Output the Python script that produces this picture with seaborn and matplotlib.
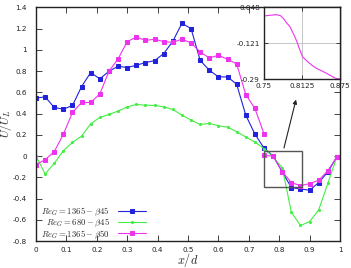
import seaborn as sns
import matplotlib.pyplot as plt
from matplotlib.patches import Rectangle

# data
x_pos = [0.00, 0.03, 0.06, 0.09, 0.12, 0.15, 0.18, 0.21, 0.24, 0.27, 0.30, 0.33,
         0.36, 0.39, 0.42, 0.45, 0.48, 0.51, 0.54, 0.57, 0.60, 0.63, 0.66, 0.69,
         0.72, 0.75, 0.78, 0.81, 0.84, 0.87, 0.90, 0.93, 0.96, 0.99]

blue_1365_b45 = [0.545, 0.557, 0.457, 0.441, 0.476, 0.654, 0.786, 0.726, 0.798, 0.845,
                 0.833, 0.854, 0.880, 0.898, 0.964, 1.080, 1.249, 1.200, 0.900, 0.808,
                 0.745, 0.745, 0.676, 0.385, 0.207, 0.075, 0.000, -0.150, -0.297, -0.310,
                 -0.322, -0.250, -0.150, -0.006]

green_680_b45 = [0.000, -0.169, -0.069, 0.050, 0.128, 0.188, 0.304, 0.363, 0.391, 0.423,
                 0.463, 0.485, 0.479, 0.476, 0.463, 0.438, 0.385, 0.338, 0.297, 0.307,
                 0.285, 0.272, 0.228, 0.180, 0.131, 0.070, -0.010, -0.110, -0.530, -0.654,
                 -0.617, -0.507, -0.257, -0.006]

# magenta series has a jump at x=0.75, drawn as two pieces
mag_x1 = x_pos[:26]
mag_y1 = [-0.080, -0.035, 0.041, 0.205, 0.410, 0.504, 0.504, 0.585, 0.798, 0.914,
          1.077, 1.120, 1.089, 1.099, 1.077, 1.070, 1.100, 1.064, 0.980, 0.923,
          0.948, 0.911, 0.867, 0.579, 0.448, 0.210]
mag_x2 = x_pos[25:]
mag_y2 = [0.005, 0.000, -0.147, -0.250, -0.279, -0.260, -0.228, -0.138, -0.006]

# zoomed curve in the inset
zoom_x = [0.75, 0.7598, 0.7707, 0.7773, 0.7817, 0.7871, 0.7926, 0.7981, 0.8035, 0.809,
          0.8133, 0.8199, 0.8281, 0.8362, 0.8444, 0.8526, 0.8608, 0.8679, 0.875]
zoom_y = [0.006, 0.009, 0.012, 0.007, -0.005, -0.026, -0.044, -0.076, -0.110, -0.154,
          -0.185, -0.204, -0.224, -0.240, -0.251, -0.263, -0.276, -0.287, -0.290]

labels = [r'$Re_G = 1365 - \beta45$', r'$Re_G = 680 - \beta45$', r'$Re_G = 1365 - \beta50$']
colors = ['#2222dd', '#44ee44', '#ee33ee']

sns.set_style('ticks')
plt.rcParams['font.family'] = ['DejaVu Sans']
plt.rcParams['mathtext.fontset'] = 'cm'
plt.rcParams['axes.unicode_minus'] = False

fig = plt.figure(figsize=(3.51, 2.68), dpi=100)
ax = fig.add_axes([36/351, 1 - 241/268, 304/351, (241 - 7.3)/268])

sns.lineplot(x=x_pos, y=blue_1365_b45, ax=ax, color=colors[0], lw=0.8, marker='s',
             markersize=2.5, mec=colors[0], estimator=None, sort=False, label=labels[0])
sns.lineplot(x=x_pos, y=green_680_b45, ax=ax, color=colors[1], lw=0.8, marker='o',
             markersize=1.5, mec=colors[1], estimator=None, sort=False, label=labels[1])
sns.lineplot(x=mag_x1, y=mag_y1, ax=ax, color=colors[2], lw=0.8, marker='s',
             markersize=2.5, mec=colors[2], estimator=None, sort=False, label=labels[2])
sns.lineplot(x=mag_x2, y=mag_y2, ax=ax, color=colors[2], lw=0.8, marker='s',
             markersize=2.5, mec=colors[2], estimator=None, sort=False)

ax.set_xlim(0, 1)
ax.set_ylim(-0.8, 1.4)
xt = [0, 0.1, 0.2, 0.3, 0.4, 0.5, 0.6, 0.7, 0.8, 0.9, 1]
ax.set_xticks(xt)
ax.set_xticklabels(['0', '0.1', '0.2', '0.3', '0.4', '0.5', '0.6', '0.7', '0.8', '0.9', '1'])
yt = [-0.8, -0.6, -0.4, -0.2, 0, 0.2, 0.4, 0.6, 0.8, 1, 1.2, 1.4]
ax.set_yticks(yt)
ax.set_yticklabels(['-0.8', '-0.6', '-0.4', '-0.2', '0', '0.2', '0.4', '0.6', '0.8',
                    '1', '1.2', '1.4'])
ax.tick_params(direction='in', top=True, right=True, length=4, width=0.6,
               labelsize=5.2, colors='#222222')
ax.tick_params(axis='y', pad=6.5)
ax.tick_params(axis='x', pad=4)
for s in ax.spines.values():
    s.set_linewidth(1.0)
    s.set_color('#222222')
ax.set_xlabel(r'$x/d$', fontsize=8.8, va='center')
ax.set_ylabel(r'$U/U_L$', fontsize=8.2, va='center')
ax.xaxis.set_label_coords(0.5, -0.082)
ax.yaxis.set_label_coords(-0.098, 0.5)

# zoom box and arrow
ax.add_patch(Rectangle((0.75, -0.29), 0.125, 0.338, fill=False, ec='#555555', lw=1.0, zorder=5))
ax.annotate('', xy=(0.8575, 0.557), xytext=(0.8135, 0.05),
            arrowprops=dict(arrowstyle='-|>', color='#222222', lw=0.8, mutation_scale=6))

ax.legend(loc='lower left', bbox_to_anchor=(0.016, 0.0), frameon=False, markerfirst=False,
          fontsize=6.3, numpoints=1, handlelength=3.2, labelspacing=-0.12,
          borderaxespad=0.0, borderpad=0.05, handletextpad=0.9)

# inset
ins = fig.add_axes([264/351, 1 - 79/268, 76/351, 72/268])
sns.lineplot(x=zoom_x, y=zoom_y, ax=ins, color=colors[2], lw=0.8, estimator=None, sort=False)
ins.set_xlim(0.75, 0.875)
ins.set_ylim(-0.29, 0.048)
ins.set_xticks([0.75, 0.8125, 0.875])
ins.set_xticklabels(['0.75', '0.8125', '0.875'])
ins.set_yticks([-0.29, -0.121, 0.048])
ins.set_yticklabels(['-0.29', '-0.121', '0.048'])
ins.grid(True, color='#bbbbbb', lw=0.6)
ins.tick_params(direction='in', top=True, right=True, length=3, width=0.6,
                labelsize=5.2, colors='#222222', pad=3)
for s in ins.spines.values():
    s.set_linewidth(1.0)
    s.set_color('#222222')

fig.savefig('out.png', dpi=100)
